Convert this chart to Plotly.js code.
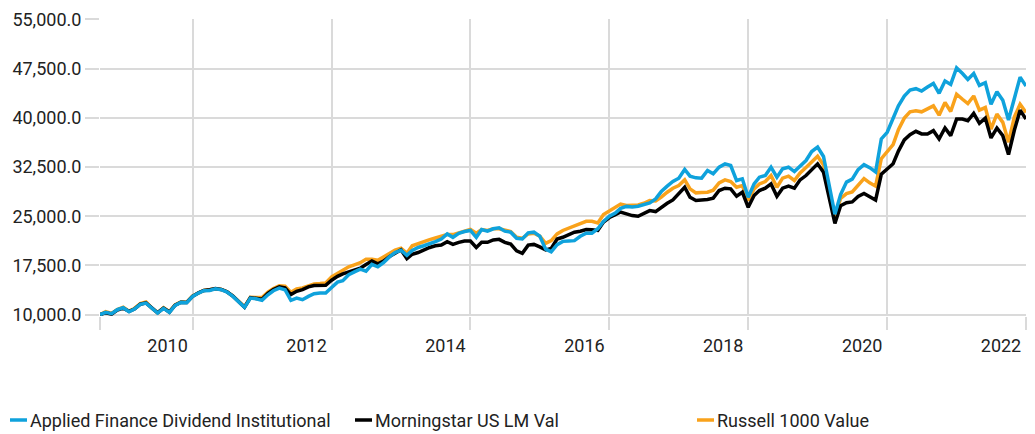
<!DOCTYPE html>
<html>
<head>
<meta charset="utf-8">
<script src="https://cdn.plot.ly/plotly-3.0.1.min.js"></script>
<style>html,body{margin:0;padding:0;background:#fff;}#chart{width:1035px;height:434px;}</style>
</head>
<body>
<div id="chart"></div>
<script>
// ---- data (growth of 10,000; monthly, month-end, starting Aug 2009) ----
const startYear = 2009;
const startMonth = 8; // August

const appliedFinance = [
10000,10355,10150,10760,11060,10455,10860,11570,11770,10910,10250,10960,10355,11420,11875,11825,
12790,13290,13650,13700,13950,13800,13445,12790,11875,11115,12530,12430,12180,13040,13650,14050,
13800,12180,12530,12280,12790,13190,13295,13295,14150,14965,15170,16080,16520,16930,16620,17655,
17300,17915,18800,19470,19830,19050,19780,20240,20500,20760,21120,21530,22310,21790,22410,22670,
22830,21790,22980,22720,23090,23240,22720,22570,21640,21530,22470,22570,21950,19980,19570,20660,
21170,21220,21280,21950,22410,22410,23090,24220,25000,25500,26200,26500,26400,26525,26730,27030,
27640,28760,29580,30290,30800,32120,31100,30850,30800,31970,31460,32470,32980,32730,30440,30700,
27900,29930,30950,31200,32470,30950,32220,32470,31810,32730,33490,34860,35530,34100,29600,25300,
28300,30200,30650,32100,32850,32400,31750,36780,37790,40050,41810,43320,44230,44430,44080,44680,
45240,43730,45590,45080,47600,46750,45840,46750,44930,45340,42060,43980,42670,39650,43070,46190,
44830
];
const morningstarCat = [
10000,10300,10100,10700,11000,10500,10850,11600,11800,10950,10300,11000,10400,11450,11900,11850,
12800,13350,13700,13800,14000,13850,13500,12850,11900,11150,12600,12500,12350,13250,13850,14250,
14080,13060,13570,13825,14230,14440,14440,14490,15250,15850,16210,16520,16830,17090,17650,18170,
17760,18170,18850,19360,19880,18535,19210,19470,19880,20240,20500,20600,21120,20710,21020,21220,
21220,20240,21020,21020,21380,21480,21020,20760,19725,19360,20600,20710,20340,19880,20100,21530,
21790,22260,22570,22720,22980,22930,22830,24120,24800,25250,25640,25360,25100,25000,25460,25860,
25710,26370,26980,27490,28410,29420,27900,27390,27490,27540,27750,28920,29270,29170,28050,28660,
26370,28150,28920,29270,29930,28050,29270,29580,29270,30540,31200,32120,32980,31700,27900,23900,
26600,27050,27180,28000,28470,27970,27470,31390,32250,33000,34920,36630,37430,37940,37540,37540,
38040,36780,38440,37280,39800,39800,39550,40660,39150,39950,36930,38440,37280,34410,38140,41160,
39800
];
const russell1000Value = [
10000,10450,10200,10800,11150,10550,10950,11700,11950,11000,10300,11050,10450,11500,11950,11900,
12850,13350,13700,13800,13950,13850,13500,12850,11950,11200,12650,12600,12600,13450,14000,14400,
14335,13420,13930,14080,14440,14690,14740,14845,15750,16300,16800,17300,17600,17910,18430,18430,
18280,18800,19360,19830,20140,19360,20500,20860,21120,21430,21690,21950,22200,22200,22470,22830,
22980,22410,22980,22830,23090,23090,22830,22670,21790,21640,22310,22410,21950,20860,21280,22310,
22830,23190,23600,23970,24220,24220,23970,25260,25800,26300,26850,26650,26630,26730,26980,27390,
27340,27900,28660,29270,29680,30540,29170,28560,28610,28660,28970,30090,30540,30290,29420,29680,
27390,29170,29930,30290,31200,29420,30800,31100,30440,31610,32420,33240,34150,32800,28800,25000,
27700,28450,28700,29700,30740,30090,29580,33760,34770,35920,38190,39950,40910,41060,40910,41310,
41810,40400,42320,40960,43580,42820,42170,43320,41160,41560,38290,40560,39300,36280,40150,42060,
40810
];

const seriesNames = ['Applied Finance Dividend Institutional', 'Morningstar US LM Val', 'Russell 1000 Value'];
const seriesValues = [appliedFinance, morningstarCat, russell1000Value];
const seriesColors = ['#0FA2DC', '#000000', '#F9A21B'];

const yTickVals = [10000, 17500, 25000, 32500, 40000, 47500, 55000];
const xTickVals = ['2009-08-31', '2010-12-31', '2012-12-31', '2014-12-31', '2016-12-31', '2018-12-31', '2020-12-31', '2022-12-31'];
const xTickText = ['', '2010', '2012', '2014', '2016', '2018', '2020', '2022'];

// ---- month-end dates ----
function monthEnds(y, m, n) {
  const out = [];
  for (let i = 0; i < n; i++) {
    const d = new Date(Date.UTC(y, m - 1 + i + 1, 0));
    out.push(d.toISOString().slice(0, 10));
  }
  return out;
}
const dates = monthEnds(startYear, startMonth, appliedFinance.length);

// draw order: orange, black, blue on top
const order = [2, 1, 0];
const traces = order.map(i => ({
  type: 'scatter', mode: 'lines', name: seriesNames[i],
  x: dates, y: seriesValues[i],
  line: {color: seriesColors[i], width: 3.5},
  showlegend: false, hoverinfo: 'skip'
}));

const FONT = 'Roboto, Liberation Sans, sans-serif';
const FS = 18;
const GRID = '#dadada';
const W = 1035, H = 434;
const M = {l: 100, r: 9, t: 19, b: 118};
const plotW = W - M.l - M.r, plotH = H - M.t - M.b;
const px = x => (x - M.l) / plotW;
const py = y => (H - M.b - y) / plotH;

// manual legend
const legendStarts = [10, 355, 697];
const legendY = 420;
const shapes = [], annotations = [];
seriesNames.forEach((name, i) => {
  const x0 = legendStarts[i];
  shapes.push({type: 'line', xref: 'paper', yref: 'paper',
    x0: px(x0), x1: px(x0 + 17), y0: py(legendY), y1: py(legendY),
    line: {color: seriesColors[i], width: 3.5}});
  annotations.push({xref: 'paper', yref: 'paper', x: px(x0 + 18), y: py(legendY),
    xanchor: 'left', yanchor: 'middle', showarrow: false, text: name,
    font: {family: FONT, size: FS, color: '#222'}});
});

const layout = {
  width: W, height: H, margin: M,
  paper_bgcolor: '#fff', plot_bgcolor: '#fff',
  font: {family: FONT, size: FS, color: '#222'},
  xaxis: {
    type: 'date', range: [dates[0], dates[dates.length - 1]],
    tickmode: 'array', tickvals: xTickVals, ticktext: xTickText,
    ticks: 'outside', ticklen: 13, tickwidth: 2, tickcolor: GRID,
    showgrid: true, gridcolor: GRID, gridwidth: 2,
    zeroline: false, showline: false, ticklabelshift: -25,
    tickfont: {family: FONT, size: FS, color: '#222'}
  },
  yaxis: {
    range: [9800, 55050], tickmode: 'array', tickvals: yTickVals,
    tickformat: ',.1f', ticks: 'outside', ticklen: 14, tickwidth: 2, tickcolor: GRID,
    showgrid: true, gridcolor: GRID, gridwidth: 2, zeroline: false, showline: false,
    tickfont: {family: FONT, size: FS, color: '#222'}
  },
  shapes: shapes, annotations: annotations, showlegend: false
};

Plotly.newPlot('chart', traces, layout, {staticPlot: true, displayModeBar: false});
</script>
</body>
</html>
